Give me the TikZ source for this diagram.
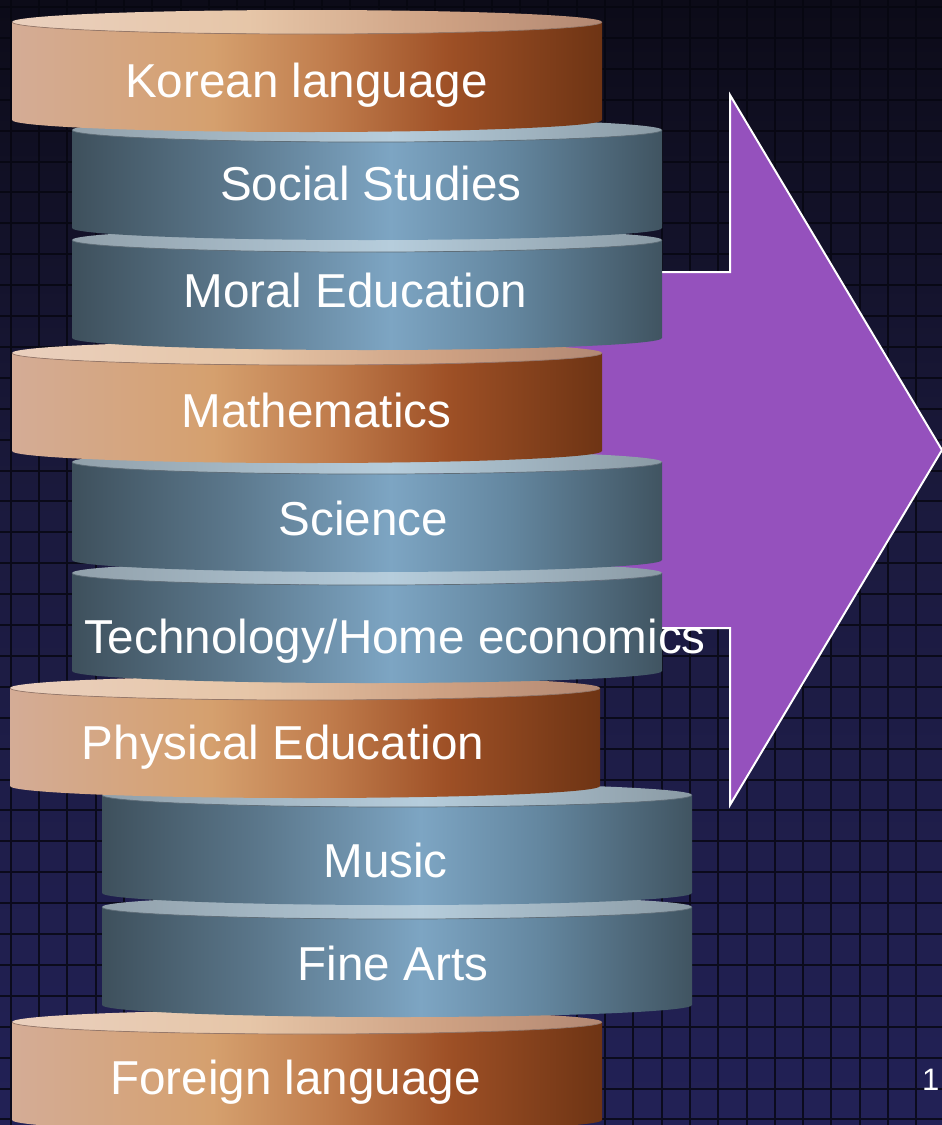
\documentclass[tikz,border=0pt]{standalone}
\usepackage{fontspec}
\setmainfont{Liberation Sans}

\definecolor{bgtop}{RGB}{12,11,24}
\definecolor{bgmid}{RGB}{27,26,62}
\definecolor{bgbot}{RGB}{34,33,86}
\definecolor{gridink}{RGB}{6,6,16}
\definecolor{arrowpurple}{RGB}{149,81,189}
% copper discs
\definecolor{cpA}{RGB}{212,172,150}
\definecolor{cpB}{RGB}{213,160,110}
\definecolor{cpC}{RGB}{192,124,76}
\definecolor{cpD}{RGB}{158,80,38}
\definecolor{cpE}{RGB}{110,52,20}
\definecolor{ctA}{RGB}{234,208,190}
\definecolor{ctB}{RGB}{230,198,168}
\definecolor{ctC}{RGB}{205,160,130}
\definecolor{ctD}{RGB}{178,136,115}
\definecolor{copperedge}{RGB}{150,120,105}
% steel discs
\definecolor{stA}{RGB}{62,80,92}
\definecolor{stB}{RGB}{90,118,138}
\definecolor{stC}{RGB}{125,165,195}
\definecolor{stD}{RGB}{100,135,160}
\definecolor{stE}{RGB}{64,84,97}
\definecolor{sgA}{RGB}{145,160,170}
\definecolor{sgB}{RGB}{182,205,220}
\definecolor{sgC}{RGB}{138,154,164}
\definecolor{steeledge}{RGB}{95,110,120}

\pgfdeclareverticalshading{backdrop}{100bp}{color(0bp)=(bgbot); color(25bp)=(bgbot); color(52bp)=(bgmid); color(75bp)=(bgtop); color(100bp)=(bgtop)}
\pgfdeclarehorizontalshading{copperside}{100bp}{color(0bp)=(cpA); color(25bp)=(cpA); color(42bp)=(cpB); color(52bp)=(cpC); color(62bp)=(cpD); color(75bp)=(cpE); color(100bp)=(cpE)}
\pgfdeclarehorizontalshading{coppertop}{100bp}{color(0bp)=(ctA); color(25bp)=(ctA); color(45bp)=(ctB); color(62bp)=(ctC); color(75bp)=(ctD); color(100bp)=(ctD)}
\pgfdeclarehorizontalshading{steelside}{100bp}{color(0bp)=(stA); color(25bp)=(stA); color(38bp)=(stB); color(52bp)=(stC); color(62bp)=(stD); color(75bp)=(stE); color(100bp)=(stE)}
\pgfdeclarehorizontalshading{steeltop}{100bp}{color(0bp)=(sgA); color(25bp)=(sgA); color(52bp)=(sgB); color(75bp)=(sgC); color(100bp)=(sgC)}

% #1 left x, #2 top y, #3 copper or steel
\newcommand{\subjectdisc}[3]{%
  \shade[shading=#3side] (#1,#2) -- ++(0,98) arc (180:0:295 and 12) -- ++(0,-98) arc (0:180:295 and 12) -- cycle;
  \shade[shading=#3top] (#1+295,#2) ellipse (295 and 12);
  \draw[#3edge, line width=0.7pt] (#1,#2) arc (180:0:295 and 12);
}

\begin{document}
\begin{tikzpicture}[x=1pt, y=-1pt,
    subject/.style={text=white, font=\fontsize{47.6}{57}\selectfont, anchor=base, inner sep=0pt},
    gridline/.style={draw=gridink, line width=2pt, opacity=0.8}]
\useasboundingbox (0,0) rectangle (942,1125);
\shade[shading=backdrop] (0,0) rectangle (942,1125);
\draw[gridline, shift={(10.7,7)}] (-30,-30) grid[xstep=28.3pt, ystep=30.9pt] (960,1150);

% arrow behind the stack
\filldraw[fill=arrowpurple, draw=white, line width=2pt]
    (300,272) -- (730,272) -- (730,95) -- (942,450) -- (730,805) -- (730,628) -- (300,628) -- cycle;

\begin{scope}[every node/.style={subject}]
    \subjectdisc{12}{1022}{copper}
    \node (foreign) at (295.5,1094) {Foreign language};
    \subjectdisc{102}{907}{steel}
    \node (finearts) at (393,980) {Fine Arts};
    \subjectdisc{102}{795}{steel}
    \node (music) at (385.5,877) {Music};
    \subjectdisc{10}{688}{copper}
    \node (physical) at (283,759) {Physical Education};
    \subjectdisc{72}{573}{steel}
    \node (techhome) at (395,653) {Technology/Home economics};
    \subjectdisc{72}{462}{steel}
    \node (science) at (363.5,535) {Science};
    \subjectdisc{12}{353}{copper}
    \node (maths) at (316.5,427) {Mathematics};
    \subjectdisc{72}{240}{steel}
    \node (moral) at (355.5,307) {Moral Education};
    \subjectdisc{72}{130}{steel}
    \node (social) at (371,200) {Social Studies};
    \subjectdisc{12}{22}{copper}
    \node (korean) at (306.5,97) {Korean language};
\end{scope}
\node[text=white, font=\fontsize{31}{37}\selectfont, anchor=base west, inner sep=0pt] (pagenum) at (922,1090) {1};
\end{tikzpicture}
\end{document}
